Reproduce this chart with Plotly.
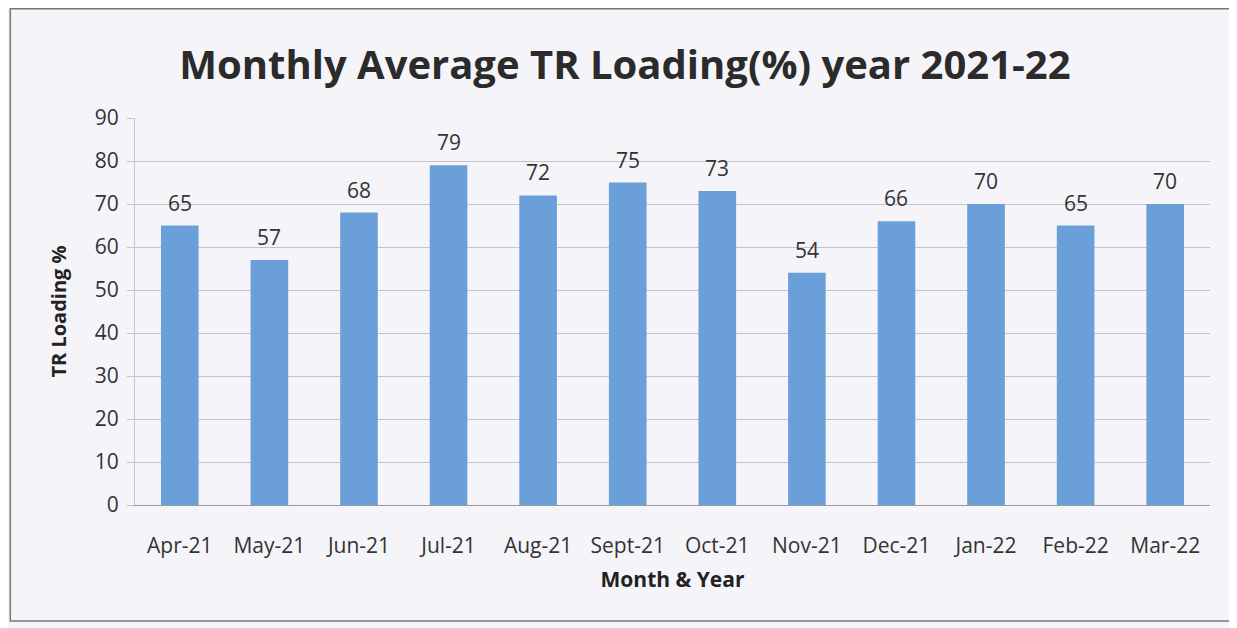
import plotly.graph_objects as go

months = ["Apr-21", "May-21", "Jun-21", "Jul-21", "Aug-21", "Sept-21", "Oct-21",
          "Nov-21", "Dec-21", "Jan-22", "Feb-22", "Mar-22"]
loading = [65, 57, 68, 79, 72, 75, 73, 54, 66, 70, 65, 70]
y_ticks = [0, 10, 20, 30, 40, 50, 60, 70, 80, 90]

BG = "#f5f5f9"
FONT = "Open Sans, Liberation Sans, sans-serif"

fig = go.Figure(go.Bar(
    x=months, y=loading,
    marker=dict(color="#6b9fda", line=dict(width=0)),
))

for m, v in zip(months, loading):
    fig.add_annotation(x=m, y=v, text=str(v), showarrow=False, yanchor="bottom",
                       yshift=7, font=dict(size=21, color="#333333", family=FONT))

fig.update_layout(
    width=1229, height=620,
    paper_bgcolor=BG, plot_bgcolor=BG,
    margin=dict(l=127, r=27, t=110, b=123),
    bargap=0.58,
    showlegend=False,
    title=dict(text="<b>Monthly Average TR Loading(%) year 2021-22</b>",
               x=0.502, xanchor="center", y=0.908, yanchor="middle",
               font=dict(size=40, color="#2b2b2b", family=FONT)),
    font=dict(family=FONT, color="#333333"),
)
fig.update_yaxes(
    range=[0, 90], tickvals=y_ticks, showgrid=True, gridcolor="#c4c4c4", gridwidth=1,
    showline=True, linecolor="#c4c4c4", ticks="outside", ticklen=7, tickcolor="#c4c4c4",
    tickfont=dict(size=21, color="#333333"), zeroline=False, ticklabelstandoff=4,
    title=dict(text="<b>TR Loading %</b>", font=dict(size=20, color="#222222"), standoff=22),
)
fig.update_xaxes(
    showline=True, linecolor="#9a9a9a", ticks="", tickfont=dict(size=21, color="#333333"),
    ticklabelstandoff=22,
    title=dict(text="<b>Month & Year</b>", font=dict(size=21, color="#222222"), standoff=14),
)
fig.add_shape(type="rect", xref="paper", yref="paper",
              x0=-0.116, x1=1.02, y0=-0.30, y1=1.282,
              line=dict(color="#777777", width=1.5))

fig.write_html("out.html")
